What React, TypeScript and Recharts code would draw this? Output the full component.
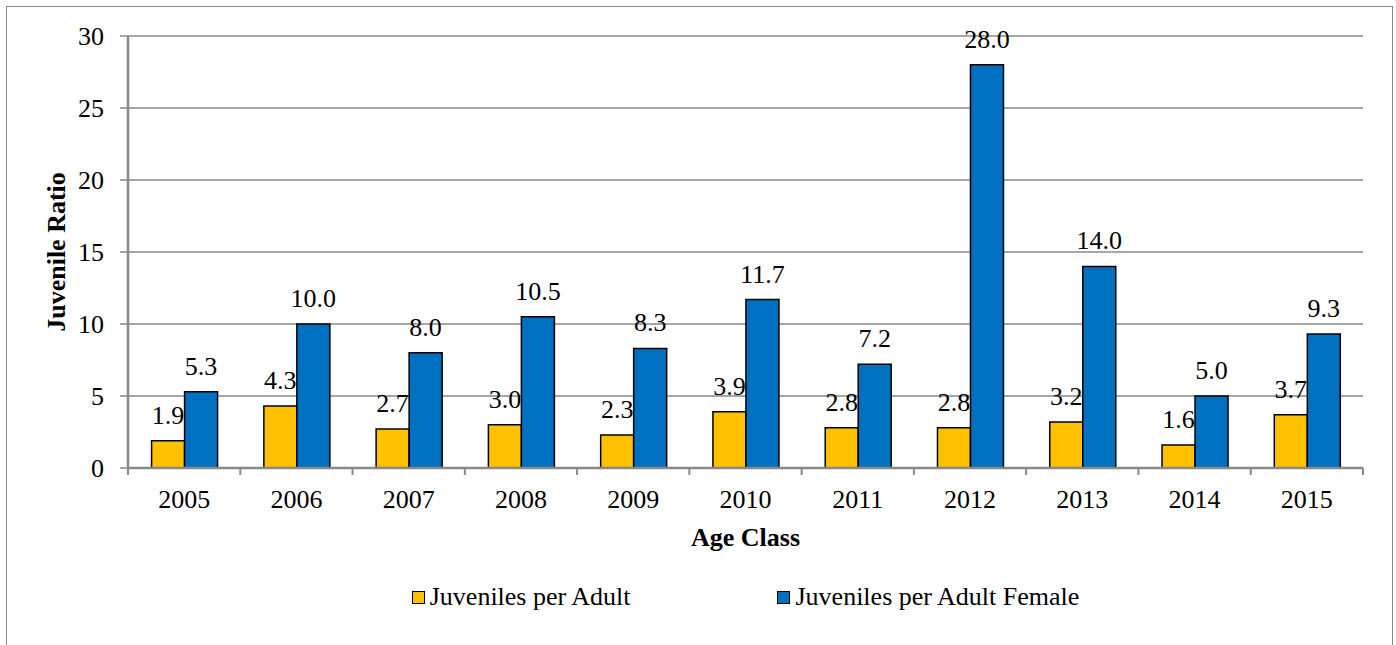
import React from 'react';
import { BarChart, Bar, XAxis, YAxis, CartesianGrid, Legend, LabelList, Label } from 'recharts';

const years = ['2005', '2006', '2007', '2008', '2009', '2010', '2011', '2012', '2013', '2014', '2015'];
const juvenilesPerAdult = [1.9, 4.3, 2.7, 3.0, 2.3, 3.9, 2.8, 2.8, 3.2, 1.6, 3.7];
const juvenilesPerAdultFemale = [5.3, 10.0, 8.0, 10.5, 8.3, 11.7, 7.2, 28.0, 14.0, 5.0, 9.3];
const yTicks = [0, 5, 10, 15, 20, 25, 30];

const data = years.map((year, i) => ({
  year,
  adult: juvenilesPerAdult[i],
  female: juvenilesPerAdultFemale[i],
}));

const W = 1396;
const H = 645;
const FONT = "'Liberation Serif', 'Times New Roman', serif";
const GRAY = '#898989';
const MARGIN = { top: 36, right: 33, left: 0, bottom: 57 };
const Y_AXIS_W = 128;
const PLOT_W = W - MARGIN.left - MARGIN.right - Y_AXIS_W;
const TEXT_STYLE = { fontFamily: FONT, fontSize: 26, fill: '#000' };

const XTick = (props: any) => {
  const { x, y, payload, index, visibleTicksCount } = props;
  const half = payload && typeof payload.offset === 'number' && payload.offset > 0
    ? payload.offset
    : PLOT_W / years.length / 2;
  const last = index === (visibleTicksCount ?? years.length) - 1;
  return (
    <g>
      <line x1={x - half} x2={x - half} y1={y} y2={y + 7} stroke={GRAY} strokeWidth={2} />
      {last && <line x1={x + half} x2={x + half} y1={y} y2={y + 7} stroke={GRAY} strokeWidth={2} />}
      <text x={x} y={y + 40} textAnchor="middle" style={TEXT_STYLE}>
        {payload.value}
      </text>
    </g>
  );
};

const YTick = (props: any) => {
  const { x, y, payload } = props;
  return (
    <text x={x} y={y} textAnchor="end" dominantBaseline="central" style={TEXT_STYLE}>
      {payload.value}
    </text>
  );
};

const YLabel = (props: any) => {
  const vb = props.viewBox || { x: 0, y: MARGIN.top, width: Y_AXIS_W, height: 432 };
  const cx = vb.x + 56;
  const cy = vb.y + vb.height / 2;
  return (
    <text
      x={cx}
      y={cy}
      transform={`rotate(-90, ${cx}, ${cy})`}
      textAnchor="middle"
      dominantBaseline="central"
      style={{ ...TEXT_STYLE, fontWeight: 'bold' }}
    >
      Juvenile Ratio
    </text>
  );
};

const XLabel = (props: any) => {
  const vb = props.viewBox || { x: Y_AXIS_W, y: 468, width: PLOT_W, height: 80 };
  return (
    <text
      x={vb.x + vb.width / 2}
      y={vb.y + 78}
      textAnchor="middle"
      style={{ ...TEXT_STYLE, fontWeight: 'bold' }}
    >
      Age Class
    </text>
  );
};

const BarValueLabel = (props: any) => {
  const { x, y, width, value } = props;
  return (
    <text x={x + width / 2} y={y - 17} textAnchor="middle" style={TEXT_STYLE}>
      {Number(value).toFixed(1)}
    </text>
  );
};

const LegendContent = (props: any) => {
  const payload = props.payload || [];
  return (
    <div
      style={{
        display: 'flex',
        justifyContent: 'center',
        alignItems: 'center',
        height: 40,
        marginLeft: Y_AXIS_W,
        width: PLOT_W,
        fontFamily: FONT,
        fontSize: 26,
        lineHeight: '40px',
        color: '#000',
      }}
    >
      {payload.map((entry: any, i: number) => (
        <div
          key={i}
          style={{ display: 'flex', alignItems: 'center', marginRight: i === 0 ? 147 : 0 }}
        >
          <span
            style={{
              display: 'inline-block',
              width: 11,
              height: 11,
              background: entry.color,
              border: '1.5px solid #000',
              marginRight: 5,
            }}
          />
          <span style={{ whiteSpace: 'nowrap', fontFamily: FONT, fontSize: 26, color: '#000' }}>
            {entry.value}
          </span>
        </div>
      ))}
    </div>
  );
};

export default function App() {
  return (
    <div style={{ position: 'absolute', left: 0, top: 0, width: W, height: H, overflow: 'hidden', background: '#fff' }}>
      <div
        style={{
          position: 'absolute',
          left: 6,
          top: 6,
          width: 1387,
          height: 700,
          border: `1.5px solid ${GRAY}`,
          boxSizing: 'border-box',
        }}
      />
      <div style={{ position: 'absolute', left: 0, top: 0 }}>
        <BarChart
          width={W}
          height={H}
          data={data}
          margin={MARGIN}
          barCategoryGap="21%"
          barGap={0}
        >
          <CartesianGrid vertical={false} stroke={GRAY} strokeWidth={1.5} />
          <XAxis
            dataKey="year"
            height={80}
            tickLine={false}
            tickSize={0}
            tickMargin={0}
            axisLine={{ stroke: GRAY, strokeWidth: 2.5 }}
            tick={<XTick />}
            interval={0}
          >
            <Label content={<XLabel />} />
          </XAxis>
          <YAxis
            width={Y_AXIS_W}
            domain={[0, 30]}
            ticks={yTicks}
            interval={0}
            tickSize={8}
            tickMargin={16}
            axisLine={{ stroke: GRAY, strokeWidth: 2.5 }}
            tickLine={{ stroke: GRAY, strokeWidth: 1.5 }}
            tick={<YTick />}
          >
            <Label content={<YLabel />} />
          </YAxis>
          <Legend
            verticalAlign="bottom"
            content={<LegendContent />}
            wrapperStyle={{ top: 577, bottom: 'auto', left: 0, width: W, height: 40 }}
          />
          <Bar
            dataKey="adult"
            name="Juveniles per Adult"
            fill="#FFC000"
            stroke="#000"
            strokeWidth={1.5}
            isAnimationActive={false}
          >
            <LabelList dataKey="adult" content={<BarValueLabel />} />
          </Bar>
          <Bar
            dataKey="female"
            name="Juveniles per Adult Female"
            fill="#0070C0"
            stroke="#000"
            strokeWidth={1.5}
            isAnimationActive={false}
          >
            <LabelList dataKey="female" content={<BarValueLabel />} />
          </Bar>
        </BarChart>
      </div>
    </div>
  );
}
